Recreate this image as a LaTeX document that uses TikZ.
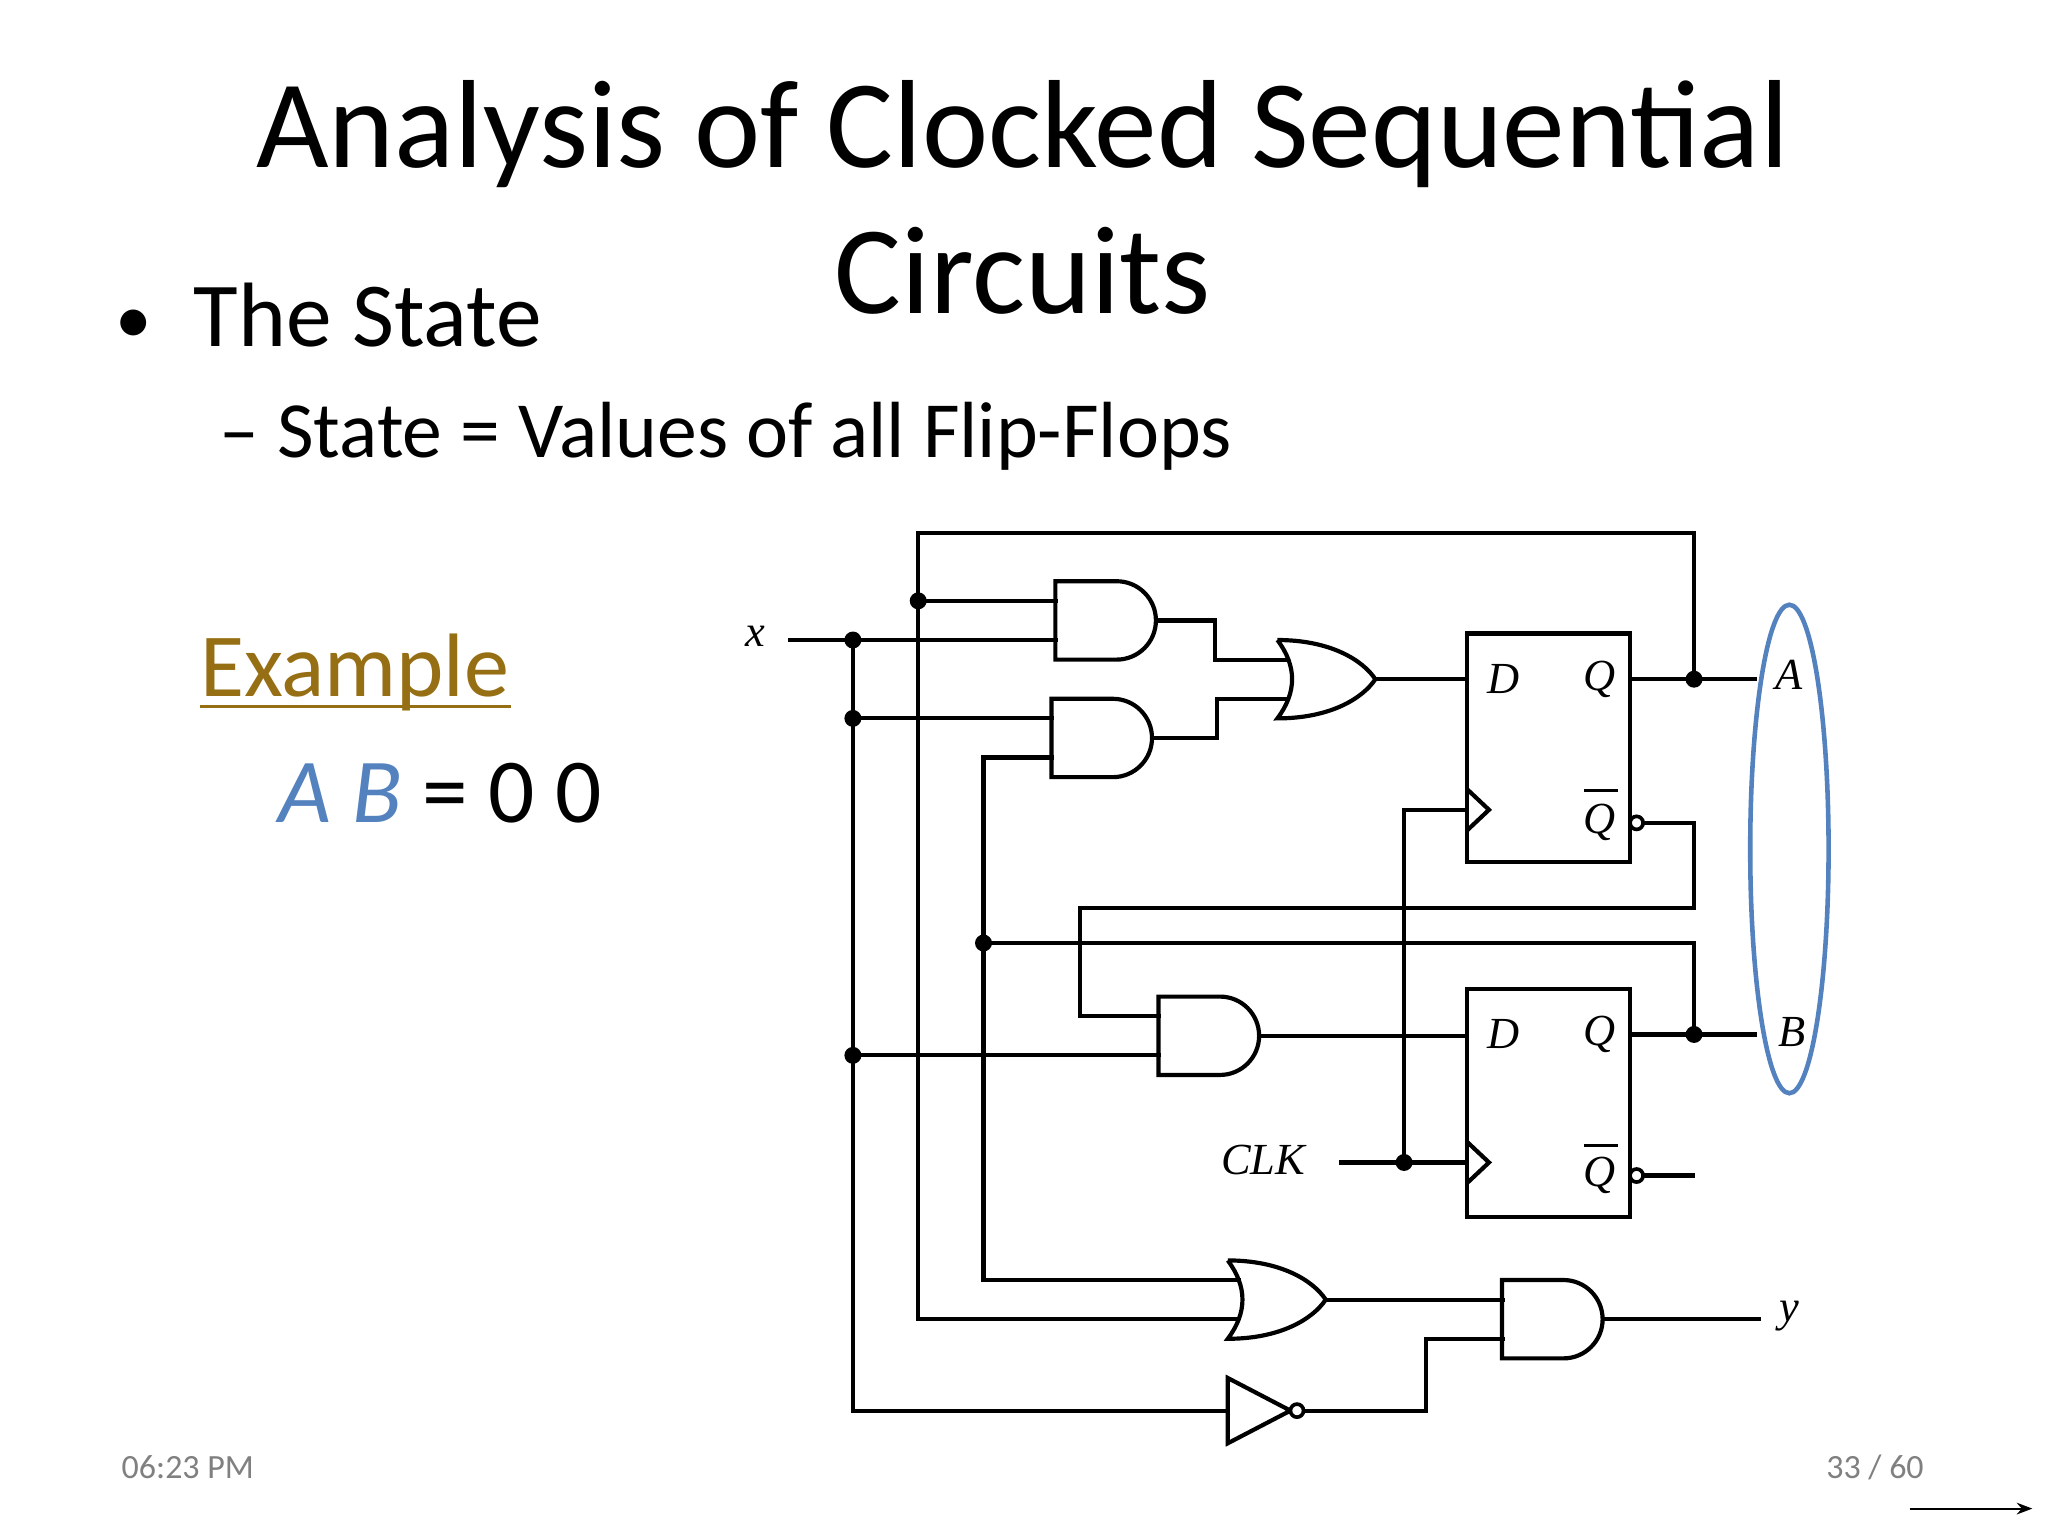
\documentclass[tikz,border=0pt]{standalone}
\usepackage{fontspec}
\setmainfont{Carlito}
\newfontfamily\serifit{Liberation Serif}
\usetikzlibrary{arrows.meta}
\newcommand\andgate[2]{\draw[wire,shift={(#1,#2)}] (0,0) -- (47,0) arc[start angle=-90,end angle=90,radius=30] -- (0,60) -- cycle;}
\newcommand\orgate[2]{\draw[wire,shift={(#1,#2)}] (0,0) .. controls (40,0) and (65,15) .. (75,30) .. controls (65,45) and (40,60) .. (0,60) .. controls (15,40) and (15,20) .. (0,0);}
\definecolor{abblue}{RGB}{84,130,190}
\definecolor{exbrown}{RGB}{150,110,20}
\begin{document}
\begin{tikzpicture}[x=1pt,y=-1pt,
  wire/.style={line width=3.2pt,line join=miter},
  dotc/.style={circle,fill=black,inner sep=0pt,minimum size=13pt},
  bub/.style={circle,draw=black,fill=white,line width=2.8pt,inner sep=0pt,minimum size=10pt},
  lab/.style={font=\serifit\itshape\fontsize{34}{34}\selectfont,inner sep=0pt}]
\useasboundingbox (0,0) rectangle (1568,1176);
\fill[white] (0,0) rectangle (1568,1176);
% texts
\node[anchor=base,font=\fontsize{96}{96}\selectfont] (t1) at (783,128) {Analysis of Clocked Sequential};
\node[anchor=base,font=\fontsize{96}{96}\selectfont] (t2) at (783,240) {Circuits};
\node[anchor=base west,font=\fontsize{56}{56}\selectfont,inner sep=0pt] (bu) at (88,263) {•};
\node[anchor=base west,font=\fontsize{70}{70}\selectfont,inner sep=0pt] (b1) at (148,265) {The State};
\node[anchor=base west,font=\fontsize{61}{61}\selectfont,inner sep=0pt] (b2) at (168,350) {– State = Values of all Flip-Flops};
\node[anchor=base west,font=\fontsize{69}{69}\selectfont,inner sep=0pt,text=exbrown] (ex) at (153,533) {Example};
\draw[exbrown,line width=2.5pt] (153,541) -- (391,541);
\node[anchor=base west,font=\fontsize{70}{70}\selectfont,inner sep=0pt] (ab) at (213,630) {\textcolor{abblue}{\itshape A B} = 0 0};
\node[anchor=base west,font=\fontsize{26}{26}\selectfont,text=gray,inner sep=0pt] (tm) at (93,1132) {06:23 PM};
\node[anchor=base east,font=\fontsize{26}{26}\selectfont,text=gray,inner sep=0pt] (pg) at (1473,1132) {33 / 60};
\coordinate (ar1) at (1462,1155); \coordinate (ar2) at (1556,1155);
\draw[line width=1.5pt,-{Stealth[length=12pt]}] (ar1) -- (ar2);
% gates
\andgate{808}{445}
\andgate{805}{535}
\orgate{978}{490}
\andgate{887}{763}
\orgate{940}{965}
\andgate{1150}{980}
\draw[wire] (940,1055) -- (988,1080) -- (940,1105) -- cycle;
% flip-flops
\draw[wire] (1123,485) rectangle (1248,660);
\draw[wire] (1123,757) rectangle (1248,932);
\draw[wire] (1123,604) -- (1140,620) -- (1123,636);
\draw[wire] (1123,874) -- (1140,890) -- (1123,906);
\foreach \yy in {520,792}{
 \node[lab] at (1151,\yy) {D};
 \node[lab] at (1225,\yy) {Q};}
\node[lab] at (1225,630) {Q};
\node[lab] at (1225,900) {Q};
\draw[line width=2.4pt] (1213,605) -- (1239,605);
\draw[line width=2.4pt] (1213,877) -- (1239,877);
% wires
\draw[wire] (1297,520) -- (1297,408) -- (703,408) -- (703,1010) -- (948,1010);
\draw[wire] (703,460) -- (810,460);
\draw[wire] (603,490) -- (810,490);
\draw[wire] (653,490) -- (653,1080) -- (940,1080);
\draw[wire] (653,550) -- (807,550);
\draw[wire] (653,808) -- (889,808);
\draw[wire] (884,475) -- (930,475) -- (930,505) -- (988,505);
\draw[wire] (882,565) -- (932,565) -- (932,535) -- (988,535);
\draw[wire] (1053,520) -- (1123,520);
\draw[wire] (1248,520) -- (1345,520);
\draw[wire] (1258,630) -- (1297,630) -- (1297,695) -- (827,695) -- (827,778) -- (889,778);
\draw[wire] (1248,792) -- (1345,792);
\draw[wire] (1297,792) -- (1297,722) -- (753,722);
\draw[wire] (807,580) -- (753,580) -- (753,980) -- (950,980);
\draw[wire] (964,793) -- (1123,793);
\draw[wire] (1025,890) -- (1123,890);
\draw[wire] (1075,890) -- (1075,620) -- (1123,620);
\draw[wire] (1258,900) -- (1298,900);
\draw[wire] (1015,995) -- (1152,995);
\draw[wire] (1227,1010) -- (1348,1010);
\draw[wire] (998,1080) -- (1092,1080) -- (1092,1025) -- (1152,1025);
\node[bub] at (1253,630) {};
\node[bub] at (1253,900) {};
\node[bub] at (993,1080) {};
\foreach \p in {(703,460),(653,490),(653,550),(653,808),(753,722),(1297,520),(1297,792),(1075,890)}
  \node[dotc] at \p {};
\node[lab] at (578,487) {x};
\node[lab] at (1370,517) {A};
\node[lab] at (1372,790) {B};
\node[lab] at (1370,1008) {y};
\node[lab] at (967,888) {CLK};
\draw[abblue,line width=3.5pt] (1370,650) ellipse[x radius=30,y radius=187];
\end{tikzpicture}
\end{document}
